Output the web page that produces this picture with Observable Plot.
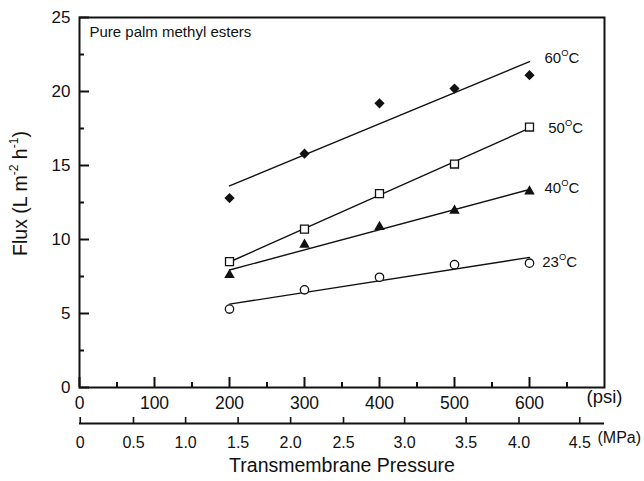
<!DOCTYPE html>
<html>
<head>
<meta charset="utf-8">
<script src="https://cdn.jsdelivr.net/npm/d3@7"></script>
<script src="https://cdn.jsdelivr.net/npm/@observablehq/plot@0.6"></script>
<style>
  html, body { margin: 0; padding: 0; background: #fff; }
  svg { font-family: "Liberation Sans", Arial, sans-serif; }
</style>
</head>
<body>
<div id="chart"></div>
<script>
// ---- data ----
const pressurePsi = [200, 300, 400, 500, 600];
const temps = ["60", "50", "40", "23"];
const flux60 = [12.8, 15.8, 19.2, 20.2, 21.1];
const flux50 = [8.5, 10.7, 13.1, 15.1, 17.6];
const flux40 = [7.6, 9.65, 10.85, 11.95, 13.25];
const flux23 = [5.3, 6.6, 7.45, 8.3, 8.4];

// label anchors (data units)
const labelPsi = [620, 625, 620, 617];
const labelFlux = [22.25, 17.55, 13.45, 8.5];

// axis ticks
const psiMajor = [0, 100, 200, 300, 400, 500, 600];
const psiMinor = [50, 150, 250, 350, 450, 550, 650];
const fluxMajor = [0, 5, 10, 15, 20, 25];
const fluxMinor = [2.5, 7.5, 12.5, 17.5, 22.5];
// MPa scale ticks as drawn in the figure (psi-equivalent positions)
const mpaTickPsi = [1, 72, 141.5, 211.5, 281.5, 352, 433.5, 515.5, 586, 667];
const mpaLabels = ["0", "0.5", "1.0", "1.5", "2.0", "2.5", "3.0", "3.5", "4.0", "4.5"];

const yTitle = "Flux (L m{-2} h{-1})";

const seriesFlux = [flux60, flux50, flux40, flux23];
const rows = temps.flatMap((t, k) => pressurePsi.map((p, i) => ({psi: p, flux: seriesFlux[k][i], temp: t})));
const labels = temps.map((t, k) => ({psi: labelPsi[k], flux: labelFlux[k], text: t + "{O}C"}));

const markStyles = {
  "60": {symbol: "diamond2", fill: "#111", stroke: "none", r: 4.6},
  "50": {symbol: "square", fill: "#fff", stroke: "#111", r: 4.5},
  "40": {symbol: "triangle", fill: "#111", stroke: "none", r: 3.9},
  "23": {symbol: "circle", fill: "#fff", stroke: "#111", r: 4.2}
};

const font = "Liberation Sans, Arial, sans-serif";

const chart = Plot.plot({
  width: 644,
  height: 481,
  marginLeft: 79,
  marginRight: 40,
  marginTop: 17,
  marginBottom: 94,
  style: {fontFamily: font, color: "#111", background: "#fff"},
  x: {domain: [0, 700]},
  y: {domain: [0, 25]},
  marks: [
    // regression lines
    Plot.linearRegressionY(rows, {x: "psi", y: "flux", z: "temp", ci: 0, stroke: "#111", strokeWidth: 1.4}),
    // points
    ...temps.map(t => Plot.dot(rows.filter(d => d.temp === t), {
      x: "psi", y: "flux",
      symbol: () => markStyles[t].symbol,
      r: markStyles[t].r,
      fill: markStyles[t].fill,
      stroke: markStyles[t].stroke,
      strokeWidth: 1.3
    })),
    // series labels
    Plot.text(labels, {x: "psi", y: "flux", text: "text", textAnchor: "start", fontSize: 15, fill: "#111"}),
    // y axis
    Plot.axisY(fluxMajor, {tickSize: -10, tickPadding: 19, fontSize: 17, label: null, strokeWidth: 2}),
    Plot.axisY(fluxMinor, {tickSize: -5, tickFormat: () => "", label: null, strokeWidth: 2}),
    // x axis (psi)
    Plot.axisX(psiMajor, {tickSize: -10, tickPadding: 19, fontSize: 17.5, label: null, strokeWidth: 2}),
    Plot.axisX(psiMinor, {tickSize: -5, tickFormat: () => "", label: null, strokeWidth: 2}),
    // secondary axis (MPa)
    Plot.ruleY([0], {dy: 36, stroke: "#111", strokeWidth: 2}),
    Plot.axisX(mpaTickPsi, {anchor: "bottom", dy: 36, tickSize: -6, tickPadding: 19.5, fontSize: 16, label: null, strokeWidth: 1.6,
      tickFormat: d => mpaLabels[mpaTickPsi.indexOf(d)]}),
    // frame
    Plot.frame({stroke: "#111", strokeWidth: 2}),
    // units
    Plot.text(["(psi)"], {frameAnchor: "bottom-right", dy: 15, textAnchor: "middle", fontSize: 18.5, fill: "#111"}),
    Plot.text(["(MPa)"], {frameAnchor: "bottom-right", dx: -7, dy: 55.5, textAnchor: "start", fontSize: 16, fill: "#111"}),
    // titles
    Plot.text(["Transmembrane Pressure"], {frameAnchor: "bottom", dy: 84.5, fontSize: 19.5, fill: "#111"}),
    Plot.text([yTitle], {frameAnchor: "left", dx: -59, dy: -9, rotate: -90, textAnchor: "start", fontSize: 19.5, fill: "#111"}),
    Plot.text(["Pure palm methyl esters"], {frameAnchor: "top-left", dx: 10, dy: 9, lineAnchor: "top", textAnchor: "start", fontSize: 15, fill: "#111"})
  ]
});

document.getElementById("chart").appendChild(chart);

// superscripts: {...} parts
const ns = "http://www.w3.org/2000/svg";
chart.querySelectorAll("text").forEach(el => {
  const s = el.textContent;
  if (!s.includes("{")) return;
  const parts = s.split(/(\{[^}]*\})/).filter(p => p.length);
  el.textContent = "";
  let raised = false;
  parts.forEach(p => {
    const ts = document.createElementNS(ns, "tspan");
    if (p.startsWith("{")) {
      ts.textContent = p.slice(1, -1);
      ts.setAttribute("font-size", "0.62em");
      ts.setAttribute("dy", "-0.75em");
      raised = true;
    } else {
      ts.textContent = p;
      if (raised) { ts.setAttribute("dy", "0.465em"); raised = false; }
    }
    el.appendChild(ts);
  });
  // centre the (start-anchored) y-axis title on its anchor point
  if (s === yTitle) {
    const bb = el.getBBox();
    el.setAttribute("x", -(bb.width / 2));
  }
});
</script>
</body>
</html>
